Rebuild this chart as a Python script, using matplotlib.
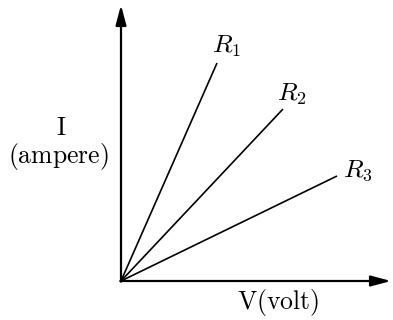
import matplotlib
matplotlib.use("Agg")
import matplotlib.pyplot as plt

plt.rcParams['mathtext.fontset'] = 'cm'

# Line end points (V, I) in arbitrary units, origin at (0, 0)
labels = [r'$R_1$', r'$R_2$', r'$R_3$']
v_end = [96, 162, 216]
i_end = [218, 172, 105]

fig = plt.figure(figsize=(3.93, 3.20), dpi=100)
ax = fig.add_axes([0, 0, 1, 1])
ax.set_xlim(-121, 272)
ax.set_ylim(-39, 281)
ax.axis('off')

astyle = '-|>,head_length=1.2,head_width=0.32'
ax.annotate('', xy=(270, 0), xytext=(-0.7, 0),
            arrowprops=dict(arrowstyle=astyle, color='black', lw=1.6,
                            mutation_scale=10, shrinkA=0, shrinkB=0))
ax.annotate('', xy=(0, 276), xytext=(0, -0.7),
            arrowprops=dict(arrowstyle=astyle, color='black', lw=1.6,
                            mutation_scale=10, shrinkA=0, shrinkB=0))

lab_pos = [(91, 228), (156, 180), (222, 104)]
for lab, v, i, pos in zip(labels, v_end, i_end, lab_pos):
    ax.plot([0, v], [0, i], color='black', lw=1.2, solid_capstyle='butt')
    ax.text(pos[0], pos[1], lab, fontsize=18.5, ha='left', va='baseline')

ax.text(-60, 153, r'$\mathrm{I}$', fontsize=18.5, ha='center', va='center')
ax.text(-63, 124, r'$\mathrm{(ampere)}$', fontsize=18.5, ha='center', va='center')
ax.text(157, -21, r'$\mathrm{V(volt)}$', fontsize=18.5, ha='center', va='center')

fig.savefig('out.png', dpi=100)
